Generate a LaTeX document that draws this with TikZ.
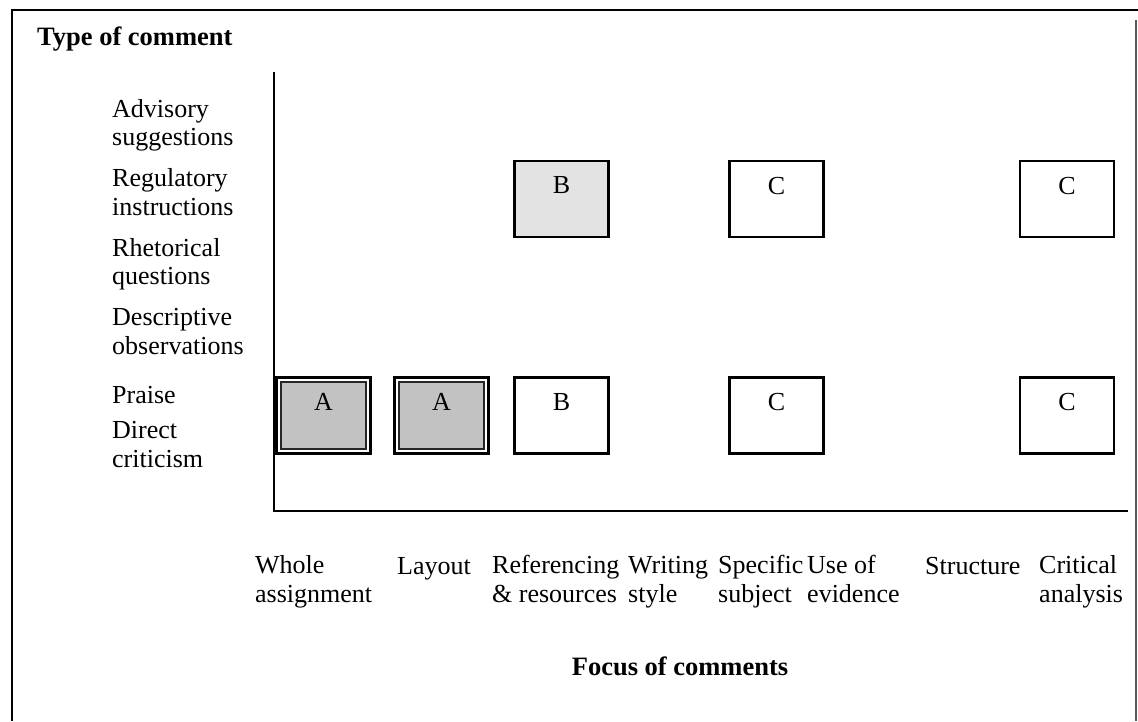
\documentclass[tikz,border=0pt]{standalone}
\usepackage{fontspec}
\setmainfont{Liberation Serif}
\begin{document}
\begin{tikzpicture}[x=1pt,y=-1pt,
  every node/.style={font=\fontsize{26}{28.5}\selectfont, inner sep=0pt},
  rowlab/.style={anchor=base west, align=left},
  collab/.style={anchor=base west, align=left},
  axistitle/.style={font=\fontsize{26.5}{28.5}\selectfont\bfseries},
  cell/.style={draw=black, line width=2.6pt, minimum width=94pt, minimum height=76pt, fill=white},
  shadecell/.style={cell, fill=black!11},
  praisecell/.style={cell, path picture={
      \draw[line width=1.3pt, draw=black!85, fill=black!24]
        ([shift={(4.6pt,-4.6pt)}]path picture bounding box.north west) rectangle
        ([shift={(-4.6pt,4.6pt)}]path picture bounding box.south east);}},
  cellmark/.style={anchor=north, inner sep=0pt, yshift=-17pt},
  axis/.style={line width=1.9pt},
  frame/.style={line width=1.8pt}]
\useasboundingbox (0,0) rectangle (1138,721);

% outer frame, open at the foot of the page
\draw[frame] (12,721) -- (12,10) -- (1138,10);
\draw[line width=1.3pt, black!65] (1136,20) -- (1136,721);

% axes
\coordinate (top) at (274,72);
\coordinate (origin) at (274,511);
\coordinate (xend) at (1128,511);
\draw[axis] (top) -- (origin) -- (xend);

% axis titles
\node[axistitle, anchor=base west] (ytitle) at (37,45) {Type of comment};
\node[axistitle, anchor=base] (xtitle) at (680,675) {Focus of comments};

% comment types (anchored on the baseline of the last line)
\node[rowlab] (advisory) at (112,145.5) {Advisory\\suggestions};
\node[rowlab] (regulatory) at (112,215) {Regulatory\\instructions};
\node[rowlab] (rhetorical) at (112,284.5) {Rhetorical\\questions};
\node[rowlab] (descriptive) at (112,354) {Descriptive\\observations};
\node[rowlab] (praise) at (112,403) {Praise};
\node[rowlab] (direct) at (112,467) {Direct\\criticism};

% comment foci
\node[collab] (whole) at (255,602) {Whole\\assignment};
\node[collab] (layout) at (397,574) {Layout};
\node[collab] (referencing) at (492,602) {Referencing\\\& resources};
\node[collab] (writing) at (628,602) {Writing\\style};
\node[collab] (specific) at (718,602) {Specific\\subject};
\node[collab] (evidence) at (807,602) {Use of\\evidence};
\node[collab] (structure) at (925,574) {Structure};
\node[collab] (critical) at (1039,602) {Critical\\analysis};

% regulatory instructions row
\node[shadecell, label={[cellmark]north:B}] (refreg) at (561.5,199) {};
\node[cell, label={[cellmark]north:C}] (specreg) at (776.5,199) {};
\node[cell, label={[cellmark]north:C}] (critreg) at (1067,199) {};

% praise row
\node[praisecell, label={[cellmark]north:A}] (wholepraise) at (323.5,415.5) {};
\node[praisecell, label={[cellmark]north:A}] (layoutpraise) at (441.5,415.5) {};
\node[cell, label={[cellmark]north:B}] (refpraise) at (561.5,415.5) {};
\node[cell, label={[cellmark]north:C}] (specpraise) at (776.5,415.5) {};
\node[cell, label={[cellmark]north:C}] (critpraise) at (1067,415.5) {};
\end{tikzpicture}
\end{document}
